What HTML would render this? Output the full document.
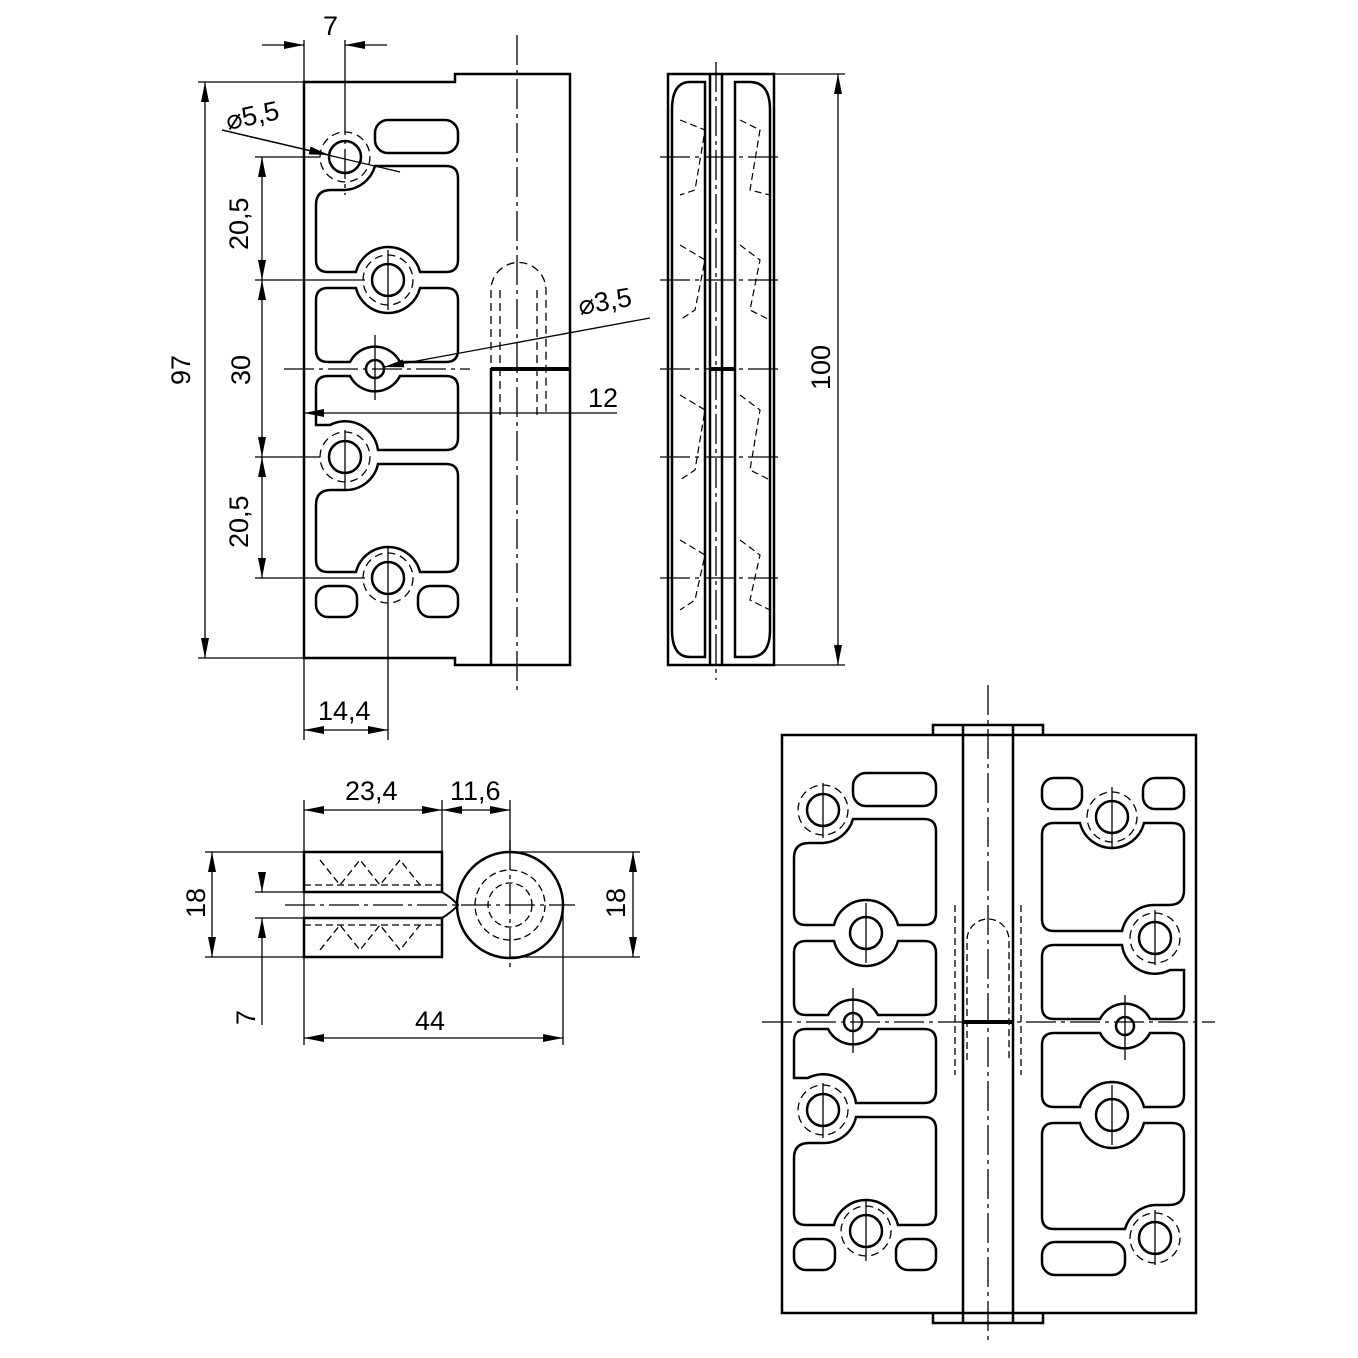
<!DOCTYPE html>
<html><head><meta charset="utf-8"><style>
html,body{margin:0;padding:0;background:#fff;}
svg{display:block;}
text{font-family:"Liberation Sans",sans-serif;font-size:27px;fill:#000;}
</style></head><body>
<svg width="1358" height="1358" viewBox="0 0 1358 1358" xmlns="http://www.w3.org/2000/svg">
<defs>
<marker id="ar" viewBox="0 0 20 8" refX="20" refY="4" markerWidth="20" markerHeight="8" orient="auto-start-reverse" markerUnits="userSpaceOnUse"><path d="M0,0 L20,4 L0,8 Z" fill="#000"/></marker>
<g id="cut" fill="none" stroke="#000" stroke-width="2.5">
    <rect x="375" y="120" width="83" height="33" rx="13"/>
    <path d="M316,205 Q316,190 331,190 L345,190 A33,33 0 0 0 375,166 L446,166 Q458,166 458,178 L458,260 Q458,272 446,272 L420,272 A33,33 0 0 0 356,272 L328,272 Q316,272 316,260 Z"/>
    <path d="M328,288 L356,288 A33,33 0 0 0 420,288 L446,288 Q458,288 458,300 L458,350 Q458,362 446,362 L400,362 A28,28 0 0 0 350,362 L328,362 Q316,362 316,350 L316,300 Q316,288 328,288 Z"/>
    <path d="M316,388 Q316,376 328,376 L350,376 A28,28 0 0 0 400,376 L446,376 Q458,376 458,388 L458,438 Q458,450 446,450 L378,450 A33,33 0 0 0 330,425 L316,425 Z"/>
    <path d="M331,490 L345,490 A33,33 0 0 0 378,464 L446,464 Q458,464 458,476 L458,560 Q458,572 446,572 L420,572 A33,33 0 0 0 356,572 L328,572 Q316,572 316,560 L316,505 Q316,490 331,490 Z"/>
    <rect x="316" y="586" width="41" height="31" rx="12"/><rect x="418" y="586" width="40" height="31" rx="12"/>
    <circle cx="345" cy="157" r="16"/><circle cx="388" cy="280" r="16"/><circle cx="375" cy="369" r="9"/>
    <circle cx="345" cy="457" r="16"/><circle cx="388" cy="578" r="16"/>
</g>
<g id="half">
  <use href="#cut"/>
  <g fill="none" stroke="#000" stroke-width="1.3" stroke-dasharray="8,5">
    <circle cx="345" cy="157" r="25"/><circle cx="345" cy="457" r="25"/><circle cx="388" cy="578" r="25"/>
  </g>
  <g fill="none" stroke="#000" stroke-width="1.3">
    <line x1="345" y1="130" x2="345" y2="185"/><line x1="388" y1="250" x2="388" y2="310"/>
    <line x1="375" y1="335" x2="375" y2="400"/><line x1="345" y1="430" x2="345" y2="485"/><line x1="388" y1="548" x2="388" y2="608"/>
  </g>
</g>
<g id="plate" fill="none" stroke="#000">
  <path d="M304,82 L455,82 L455,74 L570,74 L570,665 L455,665 L455,658 L304,658 Z" stroke-width="2.5"/>
  <line x1="491" y1="368" x2="491" y2="665" stroke-width="2.5"/>
  <line x1="491" y1="369" x2="570" y2="369" stroke-width="4"/>
  <use href="#cut"/>
  <g stroke-dasharray="8,5" stroke-width="1.3">
    <circle cx="345" cy="157" r="25"/><circle cx="388" cy="280" r="25"/>
    <circle cx="345" cy="457" r="25"/><circle cx="388" cy="578" r="25"/>
    <path d="M491,415 L491,290 A27,27 0 0 1 546,290 L546,415"/>
    <path d="M500,415 L500,290 M537,290 L537,415"/>
  </g>
</g>
</defs>

<use href="#plate"/>
<g fill="none" stroke="#000" stroke-width="1.3">
  <line x1="517" y1="35" x2="517" y2="695" stroke-dasharray="30,5,4,5"/>
  <line x1="345" y1="105" x2="345" y2="195" stroke-dasharray="30,5,4,5"/>
  <line x1="388" y1="250" x2="388" y2="310"/>
  <line x1="375" y1="335" x2="375" y2="400"/>
  <line x1="345" y1="430" x2="345" y2="490"/>
  <line x1="388" y1="548" x2="388" y2="740"/>
  <line x1="284" y1="369" x2="470" y2="369" stroke-dasharray="30,5,4,5"/>
  <line x1="304" y1="40" x2="304" y2="82"/><line x1="345" y1="40" x2="345" y2="105"/>
  <line x1="262" y1="45" x2="304" y2="45" marker-end="url(#ar)"/><line x1="387" y1="45" x2="345" y2="45" marker-end="url(#ar)"/>
  <line x1="198" y1="82" x2="304" y2="82"/><line x1="198" y1="658" x2="304" y2="658"/>
  <line x1="205" y1="82" x2="205" y2="658" marker-start="url(#ar)" marker-end="url(#ar)"/>
  <line x1="255" y1="157" x2="320" y2="157"/><line x1="255" y1="280" x2="365" y2="280"/>
  <line x1="255" y1="457" x2="320" y2="457"/><line x1="255" y1="578" x2="365" y2="578"/>
  <line x1="262" y1="157" x2="262" y2="280" marker-start="url(#ar)" marker-end="url(#ar)"/>
  <line x1="262" y1="280" x2="262" y2="457" marker-start="url(#ar)" marker-end="url(#ar)"/>
  <line x1="262" y1="457" x2="262" y2="578" marker-start="url(#ar)" marker-end="url(#ar)"/>
  <line x1="222" y1="130" x2="400" y2="172"/><line x1="222" y1="130" x2="329" y2="155" marker-end="url(#ar)"/>
  <line x1="650" y1="318" x2="384" y2="367" marker-end="url(#ar)"/>
  <line x1="304" y1="658" x2="304" y2="740"/>
  <line x1="304" y1="730" x2="388" y2="730" marker-start="url(#ar)" marker-end="url(#ar)"/>
  <line x1="617" y1="413" x2="304" y2="413" marker-end="url(#ar)"/>
</g>
<text x="323" y="35">7</text>
<text x="228" y="130" transform="rotate(-12 228 130)">⌀5,5</text>
<text x="248" y="250" transform="rotate(-90 248 250)">20,5</text>
<text x="190" y="385" transform="rotate(-90 190 385)">97</text>
<text x="250" y="385" transform="rotate(-90 250 385)">30</text>
<text x="248" y="548" transform="rotate(-90 248 548)">20,5</text>
<text x="580" y="315" transform="rotate(-10 580 315)">⌀3,5</text>
<text x="588" y="407">12</text>
<text x="318" y="720">14,4</text>

<g fill="none" stroke="#000">
  <rect x="668" y="74" width="106" height="591" stroke-width="2.5"/>
  <path d="M705,82 L690,82 Q672,82 672,110 L672,630 Q672,657 690,657 L705,657 Z" stroke-width="2.5"/>
  <path d="M735,82 L750,82 Q770,82 770,110 L770,630 Q770,657 750,657 L735,657 Z" stroke-width="2.5"/>
  <line x1="710" y1="74" x2="710" y2="665" stroke-width="2.5"/>
  <line x1="722" y1="74" x2="722" y2="665" stroke-width="2.5"/>
  <line x1="716" y1="62" x2="716" y2="680" stroke-width="1.3" stroke-dasharray="30,5,4,5"/>
  <line x1="710" y1="369" x2="735" y2="369" stroke-width="4"/>
  <g stroke-width="1.3" stroke-dasharray="30,5,4,5">
    <line x1="660" y1="157" x2="782" y2="157"/><line x1="660" y1="280" x2="782" y2="280"/>
    <line x1="660" y1="369" x2="782" y2="369"/><line x1="660" y1="457" x2="782" y2="457"/>
    <line x1="660" y1="578" x2="782" y2="578"/>
  </g>
  <g stroke-width="1.2" stroke-dasharray="7,4">
    <path d="M680,120 L705,130 L695,190 L680,195 M740,120 L760,130 L750,190 L770,195"/>
    <path d="M680,245 L705,260 L695,310 L680,320 M740,245 L760,260 L750,310 L770,320"/>
    <path d="M680,395 L705,410 L695,470 L680,480 M740,395 L760,410 L750,470 L770,480"/>
    <path d="M680,540 L705,555 L695,600 L680,610 M740,540 L760,555 L750,600 L770,610"/>
  </g>
  <line x1="774" y1="74" x2="845" y2="74" stroke-width="1.3"/><line x1="774" y1="665" x2="845" y2="665" stroke-width="1.3"/>
  <line x1="838" y1="74" x2="838" y2="665" stroke-width="1.3" marker-start="url(#ar)" marker-end="url(#ar)"/>
</g>
<text x="830" y="390" transform="rotate(-90 830 390)">100</text>

<g fill="none" stroke="#000">
  <path d="M304,852 L442,852 L442,892 L304,892 Z" stroke-width="2.5"/>
  <path d="M304,918 L442,918 L442,957 L304,957 Z" stroke-width="2.5"/>
  <circle cx="510" cy="905" r="53" stroke-width="2.5"/>
  <path d="M442,892 Q452,898 458,905 Q452,912 442,918" stroke-width="2"/>
  <g stroke-width="1.3" stroke-dasharray="7,4">
    <circle cx="510" cy="905" r="35"/><circle cx="510" cy="905" r="22"/>
    <path d="M320,860 L340,885 L360,860 L380,885 L400,860 L420,885 M320,950 L340,925 L360,950 L380,925 L400,950 L420,925"/>
    <line x1="304" y1="885" x2="442" y2="885"/><line x1="304" y1="925" x2="442" y2="925"/>
  </g>
  <g stroke-width="1.3">
    <line x1="285" y1="905" x2="575" y2="905" stroke-dasharray="30,5,4,5"/>
    <line x1="510" y1="840" x2="510" y2="970" stroke-dasharray="30,5,4,5"/>
    <line x1="304" y1="800" x2="304" y2="1045"/><line x1="442" y1="800" x2="442" y2="852"/>
    <line x1="510" y1="800" x2="510" y2="852"/><line x1="563" y1="905" x2="563" y2="1045"/>
    <line x1="304" y1="810" x2="442" y2="810" marker-start="url(#ar)" marker-end="url(#ar)"/>
    <line x1="442" y1="810" x2="510" y2="810" marker-start="url(#ar)" marker-end="url(#ar)"/>
    <line x1="205" y1="852" x2="304" y2="852"/><line x1="205" y1="957" x2="304" y2="957"/>
    <line x1="212" y1="852" x2="212" y2="957" marker-start="url(#ar)" marker-end="url(#ar)"/>
    <line x1="255" y1="892" x2="304" y2="892"/><line x1="255" y1="918" x2="304" y2="918"/>
    <line x1="262" y1="872" x2="262" y2="892" marker-end="url(#ar)"/>
    <line x1="262" y1="1025" x2="262" y2="918" marker-end="url(#ar)"/>
    <line x1="510" y1="852" x2="640" y2="852"/><line x1="510" y1="957" x2="640" y2="957"/>
    <line x1="633" y1="852" x2="633" y2="957" marker-start="url(#ar)" marker-end="url(#ar)"/>
    <line x1="304" y1="1038" x2="563" y2="1038" marker-start="url(#ar)" marker-end="url(#ar)"/>
  </g>
</g>
<text x="345" y="800">23,4</text>
<text x="450" y="800">11,6</text>
<text x="205" y="918" transform="rotate(-90 205 918)">18</text>
<text x="625" y="918" transform="rotate(-90 625 918)">18</text>
<text x="255" y="1025" transform="rotate(-90 255 1025)">7</text>
<text x="415" y="1030">44</text>

<g fill="none" stroke="#000">
  <rect x="782" y="735" width="414" height="578" stroke-width="2.5"/>
  <path d="M933,735 L933,725 L1043,725 L1043,735 M933,1313 L933,1323 L1043,1323 L1043,1313" stroke-width="2.5"/>
  <line x1="963" y1="725" x2="963" y2="1323" stroke-width="2.5"/>
  <line x1="1013" y1="725" x2="1013" y2="1323" stroke-width="2.5"/>
  <line x1="963" y1="1022" x2="1013" y2="1022" stroke-width="4"/>
  <line x1="988" y1="685" x2="988" y2="1345" stroke-width="1.3" stroke-dasharray="30,5,4,5"/>
  <line x1="762" y1="1022" x2="1215" y2="1022" stroke-width="1.3" stroke-dasharray="30,5,4,5"/>
  <g stroke-width="1.3" stroke-dasharray="7,4">
    <path d="M967,1060 L967,940 A21,21 0 0 1 1009,940 L1009,1060"/>
    <line x1="955" y1="905" x2="955" y2="1075"/><line x1="1021" y1="905" x2="1021" y2="1075"/>
  </g>
</g>
<use href="#half" transform="translate(478,653)"/>
<use href="#half" transform="rotate(180 989 1024) translate(478,653)"/>
</svg>
</body></html>
